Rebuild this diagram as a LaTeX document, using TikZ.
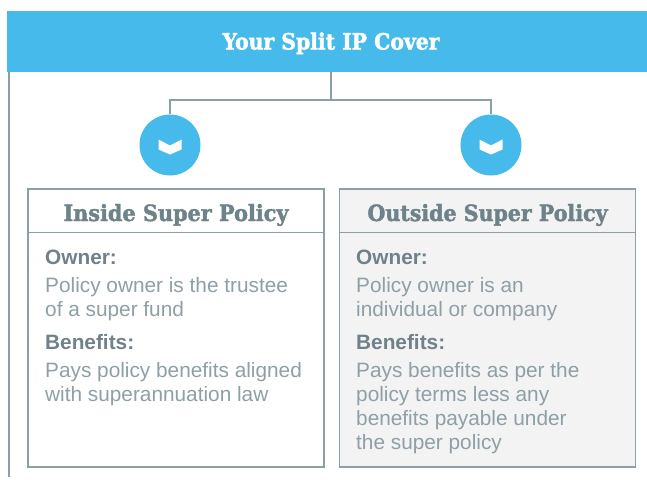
\documentclass[tikz,border=0pt]{standalone}
\usepackage{fontspec}
\setmainfont{Liberation Sans}
\newfontfamily\headfont{DejaVu Serif Condensed Bold}[FakeBold=1.8]
\definecolor{bandblue}{HTML}{46BBEB}
\definecolor{linegray}{HTML}{8D9FA6}
\definecolor{headgray}{HTML}{6E8289}
\definecolor{bodygray}{HTML}{8E9FA6}
\definecolor{boldgray}{HTML}{6F828A}
\definecolor{panelfill}{HTML}{F3F3F3}
\tikzset{
  band/.style={rectangle, fill=bandblue, inner sep=0, minimum width=640pt, minimum height=61pt},
  dot/.style={circle, fill=bandblue, inner sep=0, minimum size=61pt},
  panel/.style={rectangle, draw=linegray, line width=1.4pt, inner sep=0, minimum width=296pt, minimum height=278pt},
  conn/.style={draw=linegray, line width=1.4pt},
  boxhead/.style={anchor=base, inner sep=0, text=headgray, font=\headfont},
  bodytxt/.style={anchor=base west, inner sep=0, text=bodygray, font=\fontsize{20.8}{24}\selectfont},
  labtxt/.style={anchor=base west, inner sep=0, text=boldgray, font=\fontsize{20.8}{24}\selectfont\bfseries},
  chev/.style={fill=white}
}
\begin{document}
\begin{tikzpicture}[x=1pt, y=-1pt]
\useasboundingbox (0,0) rectangle (647,479);
% header band
\node[band] (band) at (327,41.5) {};
\node[anchor=base, inner sep=0, text=white, font=\headfont] (titletext) at (331,49.5) {\resizebox{217pt}{17pt}{Your Split IP Cover}};
% circles
\node[dot] (c1) at (170,145) {};
\node[dot] (c2) at (491,145) {};
\foreach \c in {c1,c2}{
  \fill[chev] ([shift={(-11.5,-5.5)}]\c.center) -- ([shift={(0,0.5)}]\c.center) -- ([shift={(11.5,-5.5)}]\c.center)
    -- ([shift={(11.5,4.5)}]\c.center) -- ([shift={(0,9.5)}]\c.center) -- ([shift={(-11.5,4.5)}]\c.center) -- cycle;
}
% connectors
\coordinate (j) at (331,100);
\coordinate (lend) at (9,477);
\path[conn] (band.south -| j) -- (j);
\path[conn] (c1.north) |- (j) -| (c2.north);
\path[conn] (band.south -| lend) -- (lend);
% panels
\node[panel] (inbox) at (176,328) {};
\node[panel, fill=panelfill] (outbox) at (487.5,328) {};
\path[conn] ([yshift=-44pt]inbox.north west) -- ([yshift=-44pt]inbox.north east);
\path[conn] ([yshift=-44pt]outbox.north west) -- ([yshift=-44pt]outbox.north east);
\node[boxhead] (h1) at (176,221) {\resizebox{225pt}{17pt}{Inside Super Policy}};
\node[boxhead] (h2) at (487.5,221) {\resizebox{240pt}{17pt}{Outside Super Policy}};
% left text
\node[labtxt] (lo) at (45,264.5) {Owner:};
\node[bodytxt] (lo1) at (45,292) {Policy owner is the trustee};
\node[bodytxt] (lo2) at (45,316) {of a super fund};
\node[labtxt] (lb) at (45,349) {Benefits:};
\node[bodytxt] (lb1) at (45,377) {Pays policy benefits aligned};
\node[bodytxt] (lb2) at (45,401) {with superannuation law};
% right text
\node[labtxt] (ro) at (356,264.5) {Owner:};
\node[bodytxt] (ro1) at (356,292) {Policy owner is an};
\node[bodytxt] (ro2) at (356,316) {individual or company};
\node[labtxt] (rb) at (356,349) {Benefits:};
\node[bodytxt] (rb1) at (356,377) {Pays benefits as per the};
\node[bodytxt] (rb2) at (356,401) {policy terms less any};
\node[bodytxt] (rb3) at (356,425) {benefits payable under};
\node[bodytxt] (rb4) at (356,449) {the super policy};
\end{tikzpicture}
\end{document}
